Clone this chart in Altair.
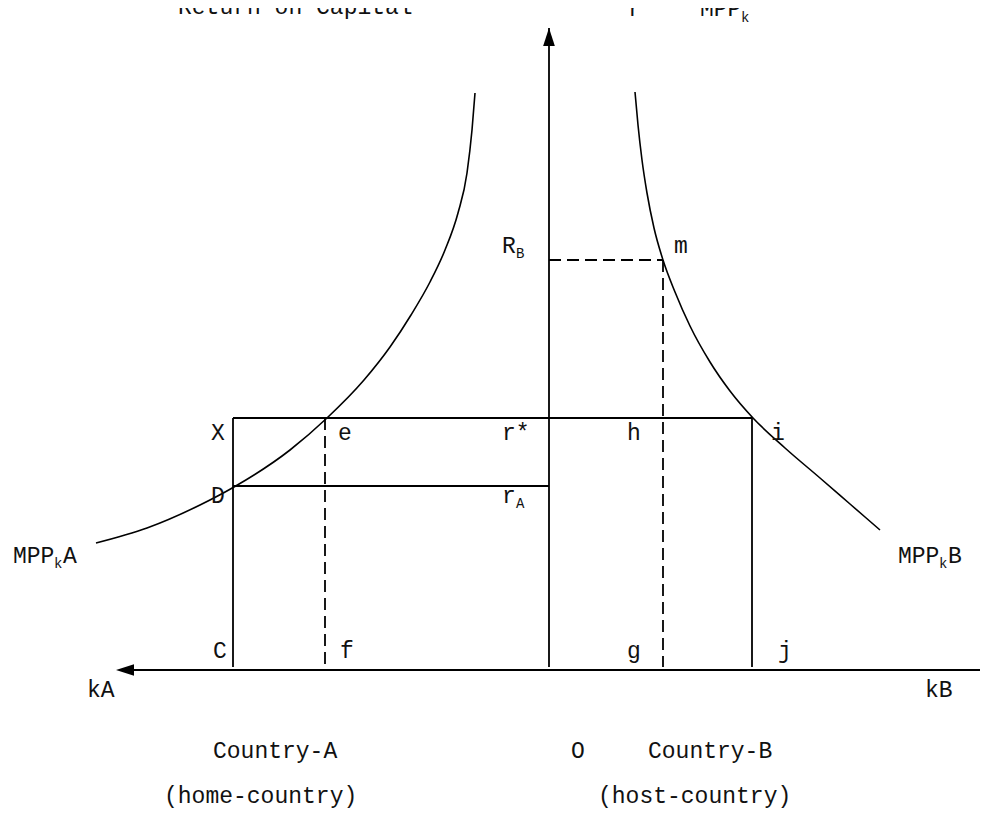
import altair as alt
import pandas as pd

# ---- data (capital units on x, return on capital on y; O = origin) ----
k_C, k_f, k_g, k_j = -31.6, -22.4, 11.4, 20.3     # capital positions
r_star, r_A, R_B = 25.2, 18.4, 41.0               # returns

curveA_x = [-45.3, -40.2, -34.9, -31.5, -25.9, -22.2, -18.5, -15.9, -13.8, -11.9, -10.4, -9.1, -8.2, -7.7, -7.4]
curveA_y = [12.7, 14.2, 16.5, 18.3, 22.0, 25.2, 29.0, 32.3, 35.5, 38.8, 42.0, 45.7, 49.7, 54.0, 57.7]
curveB_x = [8.6, 8.9, 9.3, 9.8, 10.5, 11.4, 12.6, 14.1, 16.1, 18.1, 20.4, 23.6, 27.1, 30.1, 33.1]
curveB_y = [57.8, 54.5, 51.0, 47.7, 44.2, 41.0, 37.8, 34.4, 30.8, 27.9, 25.2, 22.2, 19.2, 16.6, 14.0]

axis_x_left, axis_x_right = -41.6, 43.8
axis_y_top = 64.2

main_text = ["Return on Capital", "r", "=", "MPP", "R", "m", "X", "e", "r*", "h", "i", "D", "r",
             "MPP", "A", "MPP", "B", "C", "f", "g", "j", "kA", "kB",
             "Country-A", "O", "Country-B", "(home-country)", "(host-country)"]
main_x = [-37.1, 7.9, 11.1, 15.1, -4.7, 12.5, -33.8, -21.1, -4.7, 7.8, 22.2, -33.8, -4.7,
          -53.6, -48.6, 34.9, 39.9, -33.6, -20.9, 7.8, 22.9, -46.2, 37.6,
          -33.6, 2.2, 9.9, -38.5, 4.9]
main_y = [65.6, 65.4, 65.9, 65.4, 41.7, 41.7, 23.0, 23.0, 23.0, 23.0, 23.0, 16.7, 16.7,
          10.7, 10.7, 10.7, 10.7, 1.2, 1.2, 1.2, 1.2, -2.7, -2.7,
          -8.8, -8.8, -8.8, -13.3, -13.3]

sub_text = ["B", "A", "k", "k", "k"]
sub_x = [-3.3, -3.3, 19.2, -49.5, 39.0]
sub_y = [41.2, 16.2, 64.8, 10.2, 10.2]

# ---- tables ----
solid = pd.DataFrame({
    "x":  [0.0, axis_x_left, axis_x_right, k_C, k_C, k_j, k_C],
    "x2": [0.0, axis_x_right, axis_x_right, k_j, k_C, k_j, 0.0],
    "y":  [0.3, 0.0, -0.8, r_star, r_star, r_star, r_A],
    "y2": [axis_y_top, 0.0, 0.8, r_star, 0.3, 0.3, r_A],
})
dashed = pd.DataFrame({
    "x":  [k_f, 0.0, k_g],
    "x2": [k_f, k_g, k_g],
    "y":  [r_star, R_B, R_B],
    "y2": [0.3, R_B, 0.3],
})
curves = pd.concat([
    pd.DataFrame({"x": curveA_x, "y": curveA_y, "c": "A"}),
    pd.DataFrame({"x": curveB_x, "y": curveB_y, "c": "B"}),
])
arrows = pd.DataFrame({"x": [0.0, axis_x_left - 0.8], "y": [axis_y_top - 0.9, 0.0],
                       "s": ["up", "left"]})
mains = pd.DataFrame({"t": main_text, "x": main_x, "y": main_y})
subs = pd.DataFrame({"t": sub_text, "x": sub_x, "y": sub_y})

W, H = 972, 800
xs = alt.Scale(domain=[-54.1, -54.1 + W / 10], nice=False, zero=False)
ys = alt.Scale(domain=[66.2 - H / 10, 66.2], nice=False, zero=False)
X = lambda f="x": alt.X(f"{f}:Q", scale=xs, axis=None)
Y = lambda f="y": alt.Y(f"{f}:Q", scale=ys, axis=None)

FONT = "Courier New, Liberation Mono, monospace"

solid_l = alt.Chart(solid).mark_rule(color="black", strokeWidth=1.8).encode(
    x=X(), x2="x2:Q", y=Y(), y2="y2:Q")
dashed_l = alt.Chart(dashed).mark_rule(color="black", strokeWidth=1.8, strokeDash=[12, 6]).encode(
    x=X(), x2="x2:Q", y=Y(), y2="y2:Q")
curve_l = alt.Chart(curves).mark_line(color="black", strokeWidth=1.6, interpolate="monotone").encode(
    x=X(), y=Y(), detail="c:N", order="x:Q")
arrow_up = alt.Chart(arrows[arrows.s == "up"]).mark_point(
    shape="M0,-1L0.65,1L-0.65,1Z", filled=True, color="black", size=324, opacity=1).encode(x=X(), y=Y())
arrow_left = alt.Chart(arrows[arrows.s == "left"]).mark_point(
    shape="M-1,0L1,-0.65L1,0.65Z", filled=True, color="black", size=324, opacity=1).encode(x=X(), y=Y())
main_l = alt.Chart(mains).mark_text(font=FONT, fontSize=23, align="left", baseline="alphabetic",
                                    color="#111").encode(x=X(), y=Y(), text="t:N")
sub_l = alt.Chart(subs).mark_text(font=FONT, fontSize=14, align="left", baseline="alphabetic",
                                  color="#111").encode(x=X(), y=Y(), text="t:N")

chart = alt.layer(solid_l, dashed_l, curve_l, arrow_up, arrow_left, main_l, sub_l).properties(
    width=W, height=H, padding=0, autosize="none"
).configure_view(stroke=None)

chart.save("out.html", embed_options={"renderer": "svg", "actions": False})
